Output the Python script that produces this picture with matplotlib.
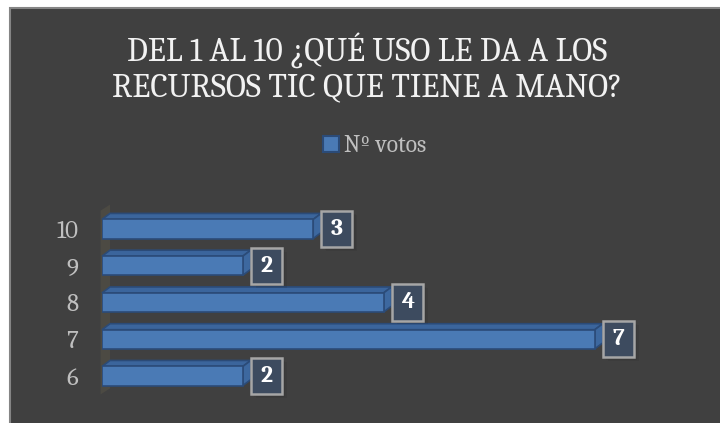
import matplotlib
matplotlib.use("Agg")
import matplotlib.pyplot as plt
from matplotlib.patches import Polygon, Rectangle, Patch

# ---- data ----
categories = ["6", "7", "8", "9", "10"]
votes = [2, 7, 4, 2, 3]
title_lines = ["DEL 1 AL 10 ¿QUÉ USO LE DA A LOS", "RECURSOS TIC QUE TIENE A MANO?"]
series_name = "Nº votos"

SERIF = ["Caladea", "Liberation Serif", "DejaVu Serif"]
BG = "#404040"
FRONT = "#4a7ab5"
EDGE = "#2b4b78"
TOP = "#3b659c"
SIDE = "#3d689f"

W, H = 720, 423
fig = plt.figure(figsize=(7.2, 4.23), dpi=100)
fig.patch.set_facecolor("white")

# chart area background with border
bgax = fig.add_axes([0, 0, 1, 1], zorder=-5)
bgax.set_axis_off()
bgax.set_xlim(0, W)
bgax.set_ylim(H, 0)
bgax.add_patch(Rectangle((10, 8), W, H, facecolor=BG, edgecolor="#858585",
                         linewidth=1.5))

# axes: value 0 at x=102px, 70.4 px per unit; categories 36.75 px apart
left = 102 / W
right = 700 / W
xmax = (700 - 102) / 70.4
bottom = 1 - 394.4 / H
top = 1 - 210.6 / H
ax = fig.add_axes([left, bottom, right - left, top - bottom], zorder=1)
ax.set_facecolor("none")
ax.set_xlim(0, xmax)
ax.set_ylim(-0.5, len(categories) - 0.5)
for s in ax.spines.values():
    s.set_visible(False)
ax.set_xticks([])
ax.set_yticks(range(len(categories)))
ax.set_yticklabels(categories, fontfamily=SERIF, fontsize=18, color="#bfbfbf")
ax.tick_params(axis="y", length=0, pad=17)

dx = 8 / 70.4
dy = 6 / 36.75
h = 0.52

# back wall
ax.add_patch(Polygon([(-0.02, -0.5), (dx, -0.5 + dy), (dx, len(categories) - 0.5 + dy),
                      (-0.02, len(categories) - 0.5)],
                     closed=True, facecolor="#4c4a43", edgecolor="none",
                     clip_on=False, zorder=0.5))

ys = list(range(len(categories)))
ax.barh(ys, votes, height=h, color=FRONT, edgecolor=EDGE, linewidth=1.2, zorder=3)
for y, v in zip(ys, votes):
    t = y + h / 2
    b = y - h / 2
    ax.add_patch(Polygon([(0, t), (v, t), (v + dx, t + dy), (dx, t + dy)], closed=True,
                         facecolor=TOP, edgecolor=EDGE, linewidth=1.2, zorder=2.9,
                         clip_on=False))
    ax.add_patch(Polygon([(v, b), (v + dx, b + dy), (v + dx, t + dy), (v, t)], closed=True,
                         facecolor=SIDE, edgecolor=EDGE, linewidth=1.2, zorder=2.9,
                         clip_on=False))
    # data label box with soft shadow
    bw = 31 / 70.4
    bh = 36 / 36.75
    bx = v + dx
    for k, a in enumerate([0.10, 0.10, 0.10]):
        off = 0.03 * (k + 1)
        ax.add_patch(Rectangle((bx + off * 0.8, y - bh / 2 - off * 1.2), bw, bh,
                               facecolor="#202020", edgecolor="none", alpha=a,
                               zorder=3.5, clip_on=False))
    ax.add_patch(Rectangle((bx, y - bh / 2), bw, bh, facecolor="#3d4b5f",
                           edgecolor="#a6a6a6", linewidth=1.8, zorder=4, clip_on=False))
    ax.text(bx + bw / 2, y, str(v), ha="center", va="center", fontfamily=SERIF,
            fontweight="bold", fontsize=17, color="white", zorder=5)

# title
fig.text(367 / W, 1 - 50 / H, title_lines[0], ha="center", va="center",
         fontfamily=SERIF, fontsize=24, color="#f2f2f2")
fig.text(367 / W, 1 - 88 / H, title_lines[1], ha="center", va="center",
         fontfamily=SERIF, fontsize=24, color="#f2f2f2")

# legend
leg = fig.legend(handles=[Patch(facecolor=FRONT, edgecolor=EDGE, linewidth=1.5,
                                label=series_name)],
                 loc="center", bbox_to_anchor=(375 / W, 1 - 146 / H), frameon=False,
                 prop={"family": SERIF, "size": 17}, handlelength=0.65,
                 handleheight=0.7, handletextpad=0.25)
for t in leg.get_texts():
    t.set_color("#bfbfbf")

fig.savefig("out.png", dpi=100, facecolor=fig.get_facecolor())
